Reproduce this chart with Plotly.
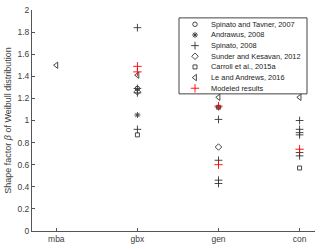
import plotly.graph_objects as go

categories = ["mba", "gbx", "gen", "con"]

# series data (category, value)
st2007_x = ["gbx", "gen"]
st2007_y = [1.29, 1.12]

andrawus_x = ["gbx", "gen"]
andrawus_y = [1.05, 1.12]

spinato_x = ["gbx", "gbx", "gbx", "gbx", "gen", "gen", "gen", "gen",
             "con", "con", "con", "con", "con", "con"]
spinato_y = [1.84, 1.29, 1.25, 0.92, 1.01, 0.64, 0.46, 0.43,
             1.00, 0.92, 0.89, 0.87, 0.71, 0.68]

sunder_x = ["gbx", "gen"]
sunder_y = [1.26, 0.76]

carroll_x = ["gbx", "con"]
carroll_y = [0.87, 0.57]

le_x = ["mba", "gbx", "gen", "con"]
le_y = [1.50, 1.41, 1.21, 1.21]

model_x = ["gbx", "gbx", "gen", "gen", "con"]
model_y = [1.49, 1.44, 1.13, 0.60, 0.74]

legend_names = ["Spinato and Tavner, 2007", "Andrawus, 2008", "Spinato, 2008",
                "Sunder and Kesavan, 2012", "Carroll et al., 2015a",
                "Le and Andrews, 2016", "Modeled results"]

DARK = "#333333"
series = [
    (st2007_x, st2007_y, "circle-open", 4.5, DARK),
    (andrawus_x, andrawus_y, "asterisk-open", 5, DARK),
    (spinato_x, spinato_y, "cross-thin-open", 5.5, DARK),
    (sunder_x, sunder_y, "diamond-open", 5, DARK),
    (carroll_x, carroll_y, "square-open", 4, DARK),
    (le_x, le_y, "triangle-left-open", 5.5, DARK),
    (model_x, model_y, "cross-thin-open", 6, "red"),
]

W, H = 320, 249
L, R, T, B = 32, 5, 7, 18

fig = go.Figure()
for (xs, ys, sym, sz, col), name in zip(series, legend_names):
    fig.add_trace(go.Scatter(
        x=xs, y=ys, mode="markers", name=name, showlegend=False,
        marker=dict(symbol=sym, size=sz, color=col, line=dict(color=col, width=0.9)),
        hoverinfo="skip"))

# manual legend (pixel-based overlay axes)
lg_left, lg_right, lg_top, lg_bot = 179, 307, 15, 92
row_y = [21.5, 32.3, 43.1, 53.9, 64.7, 75.5, 86.3]
for (xs, ys, sym, sz, col), name, ry in zip(series, legend_names, row_y):
    fig.add_trace(go.Scatter(
        x=[195], y=[ry], mode="markers", xaxis="x2", yaxis="y2", showlegend=False,
        marker=dict(symbol=sym, size=sz, color=col, line=dict(color=col, width=0.9)),
        hoverinfo="skip"))
    fig.add_annotation(x=209, y=ry, xref="x2", yref="y2", text=name,
                       showarrow=False, xanchor="left", yanchor="middle",
                       font=dict(size=7.4, color="#222222",
                                 family="Liberation Sans, Arial, sans-serif"))

fig.add_shape(type="rect", xref="x2", yref="y2", x0=lg_left, x1=lg_right,
              y0=lg_top, y1=lg_bot, line=dict(color="#444444", width=1),
              fillcolor="white", layer="below")

fig.update_layout(
    width=W, height=H,
    margin=dict(l=L, r=R, t=T, b=B, pad=0),
    paper_bgcolor="white", plot_bgcolor="white",
    font=dict(family="Liberation Sans, Arial, sans-serif", size=8, color="#404040"),
    showlegend=False,
    xaxis=dict(type="category", categoryarray=categories, categoryorder="array",
               range=[-0.3, 3.19], showline=True, linecolor="#555555", linewidth=1,
               ticks="inside", ticklen=3, tickcolor="#555555", showgrid=False,
               zeroline=False, tickfont=dict(size=8.5)),
    yaxis=dict(range=[0, 2], tickvals=[0, 0.2, 0.4, 0.6, 0.8, 1, 1.2, 1.4, 1.6, 1.8, 2],
               ticktext=["0", "0.2", "0.4", "0.6", "0.8", "1", "1.2", "1.4", "1.6", "1.8", "2"],
               showline=True, linecolor="#555555", linewidth=1,
               ticks="inside", ticklen=3, tickcolor="#555555", showgrid=False,
               zeroline=False, tickfont=dict(size=8.5),
               title=dict(text="Shape factor <i>β</i> of Weibull distribution",
                          font=dict(size=9), standoff=4)),
    xaxis2=dict(domain=[0, 1], range=[L, W - R], visible=False, overlaying="x",
                fixedrange=True),
    yaxis2=dict(domain=[0, 1], range=[H - B, T], visible=False, overlaying="y",
                fixedrange=True),
)

fig.write_html("out.html", config={"displayModeBar": False},
               post_script="document.body.style.margin='0px';document.body.style.overflow='hidden';")
